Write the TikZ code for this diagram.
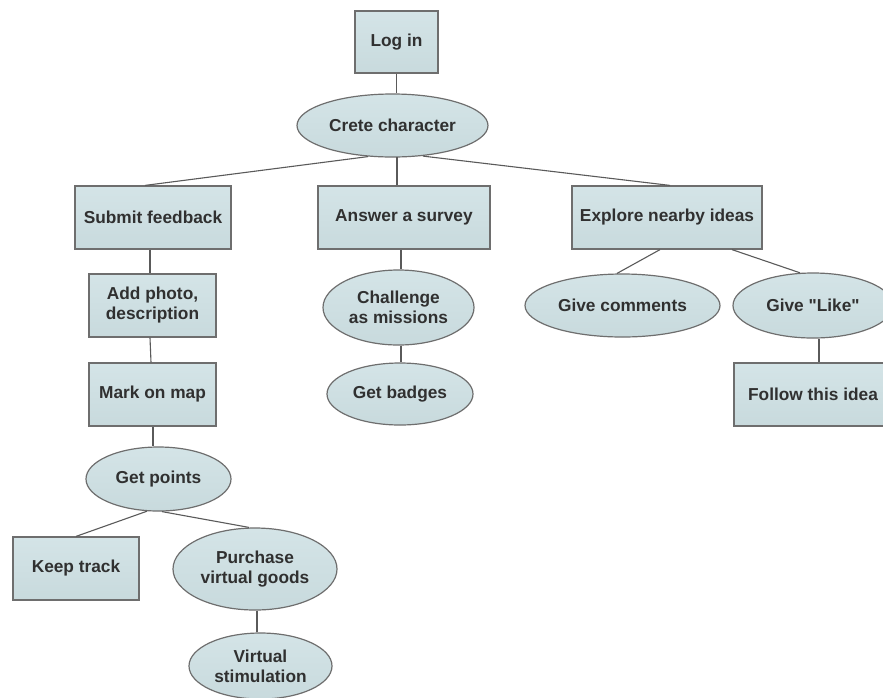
\documentclass[tikz,border=0pt]{standalone}
\usepackage{fontspec}
\setmainfont{Liberation Sans}
\usetikzlibrary{shapes.geometric}
\definecolor{boxtop}{HTML}{D4E4E7}
\definecolor{boxbot}{HTML}{C8DADD}
\definecolor{edgegray}{HTML}{6E6E6E}
\definecolor{linkgray}{HTML}{5A5A5A}
\definecolor{txt}{HTML}{303030}
\newcommand{\zw}[1]{\makebox[0pt]{#1}}
\tikzset{
  item/.style={draw=edgegray, line width=1.2pt, top color=boxtop, bottom color=boxbot,
    text=txt, inner sep=0pt, align=center,
    font=\fontsize{17.3}{20}\selectfont\bfseries},
  stepbox/.style={item, rectangle},
  oval/.style={item, ellipse},
  link/.style={draw=linkgray, line width=1.1pt}
}
\begin{document}
\begin{tikzpicture}[x=1pt, y=-1pt]
\clip (0,0) rectangle (883,697);
\fill[white] (0,0) rectangle (883,697);

% top of the tree
\node[stepbox, minimum width=83, minimum height=62] (login) at (396.5,42) {Log in};
\node[oval, minimum width=191, minimum height=63] (crete) at (392.5,125.5) {\zw{Crete character}};

% three branches
\node[stepbox, minimum width=156, minimum height=63] (submit) at (153,217.5) {Submit feedback};
\node[stepbox, minimum width=172, minimum height=63] (answer) at (404,217.5) {Answer a survey};
\node[stepbox, minimum width=190, minimum height=63] (explore) at (667,217.5) {Explore nearby ideas};

% feedback branch
\node[stepbox, minimum width=127, minimum height=63] (photo) at (152.5,305.5) {Add photo,\\description};
\node[stepbox, minimum width=127, minimum height=63] (mark) at (152.5,394.5) {Mark on map};
\node[oval, minimum width=145, minimum height=64] (points) at (158.5,479) {\zw{Get points}};
\node[stepbox, minimum width=126, minimum height=63] (keep) at (76,568.5) {Keep track};
\node[oval, minimum width=164, minimum height=82] (purchase) at (255,569) {\zw{Purchase}\\\zw{virtual goods}};
\node[oval, minimum width=143, minimum height=66] (virtual) at (260.5,666) {\zw{Virtual}\\\zw{stimulation}};

% survey branch
\node[oval, minimum width=151, minimum height=75] (challenge) at (398.5,307.5) {\zw{Challenge}\\\zw{as missions}};
\node[oval, minimum width=146, minimum height=62] (badges) at (400,394) {\zw{Get badges}};

% explore branch
\node[oval, minimum width=195, minimum height=63] (comments) at (622.5,305.5) {\zw{Give comments}};
\node[oval, minimum width=160, minimum height=65] (like) at (813,305.5) {\zw{Give \textquotedbl Like\textquotedbl}};
\node[stepbox, minimum width=158, minimum height=63] (follow) at (813,394.5) {Follow this idea};

% connectors
\draw[link] (login.south) -- (login.south |- crete.north);
\draw[link] ([xshift=-24.5pt,yshift=1pt]crete.south) -- ([xshift=-8pt]submit.north);
\draw[link] ([xshift=-7pt]answer.north) -- ([xshift=-7pt,yshift=0.2pt]answer.north |- crete.south);
\draw[link] ([xshift=30.5pt,yshift=1.5pt]crete.south) -- ([xshift=3pt]explore.north);

\draw[link] ([xshift=-3pt]submit.south) -- ([xshift=-2.5pt]photo.north);
\draw[link] ([xshift=-2.5pt]photo.south) -- ([xshift=-1.5pt]mark.north);
\draw[link] ([xshift=0.5pt]mark.south) -- ([xshift=0.5pt]mark.south |- points.north);
\draw[link] ([xshift=-11.5pt,yshift=0.4pt]points.south) -- (keep.north);
\draw[link] ([xshift=3.5pt]points.south) -- ([xshift=-6pt]purchase.north);
\draw[link] ([xshift=2pt]purchase.south) -- ([xshift=2pt]purchase.south |- virtual.north);

\draw[link] ([xshift=-3pt]answer.south) -- ([xshift=-3pt]answer.south |- challenge.north);
\draw[link] ([xshift=2.5pt]challenge.south) -- ([xshift=2.5pt]challenge.south |- badges.north);

\draw[link] ([xshift=-7pt]explore.south) -- ([xshift=-5.5pt]comments.north);
\draw[link] ([xshift=65pt]explore.south) -- ([xshift=-13pt,yshift=-0.4pt]like.north);
\draw[link] ([xshift=6pt]like.south) -- ([xshift=6pt]like.south |- follow.north);
\end{tikzpicture}
\end{document}
